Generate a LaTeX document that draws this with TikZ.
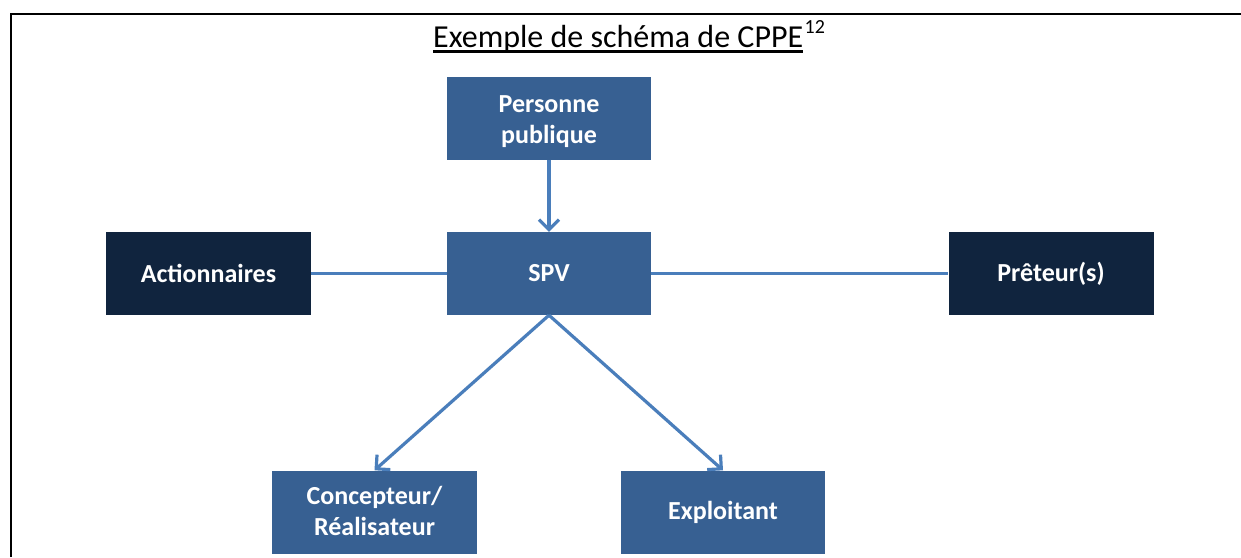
\documentclass[tikz,border=0pt]{standalone}
\usepackage{fontspec}
\setmainfont{Carlito}
\usetikzlibrary{arrows.meta}
\definecolor{midblue}{HTML}{376092}
\definecolor{navyblue}{HTML}{10243E}
\definecolor{linkblue}{HTML}{4A7EBB}
\begin{document}
\begin{tikzpicture}[x=1pt,y=-1pt,
  box/.style={rectangle, fill=midblue, text=white,
    font=\bfseries\fontsize{26}{31}\selectfont,
    minimum width=204pt, minimum height=83pt, inner sep=0pt, align=center},
  dbox/.style={box, fill=navyblue},
  link/.style={draw=linkblue, line width=3.2pt},
  arr/.style={link, -{Straight Barb[length=10pt,width=20pt,line width=3.2pt]}}]
\useasboundingbox (0,0) rectangle (1241,557);
% frame
\draw[line width=2.2pt] (11,557) -- (11,14) -- (1241,14);
% title
\node[anchor=base west, inner sep=0pt, font=\fontsize{32}{38}\selectfont] (title) at (433,47) {Exemple de schéma de CPPE};
\node[anchor=base west, inner sep=0pt, font=\fontsize{20}{24}\selectfont] (sup) at ([xshift=1pt,yshift=14pt]title.base east) {12};
\draw[line width=2.2pt] ([yshift=-4.5pt]title.base west) -- ([yshift=-4.5pt]title.base east);
% boxes
\node[box] (pp) at (549,118) {\raisebox{-4pt}[\height][\depth]{\begin{tabular}{@{}c@{}}Personne\\publique\end{tabular}}};
\node[box] (spv) at (549,273.5) {SPV};
\node[dbox, minimum width=205pt] (act) at (208.5,273.5) {Actionnaires};
\node[dbox, minimum width=205pt] (pret) at (1051,273.5) {Prêteur(s)};
\node[box, minimum width=205pt] (con) at (374.5,512) {\raisebox{-2pt}[\height][\depth]{\begin{tabular}{@{}c@{}}Concepteur/\\Réalisateur\end{tabular}}};
\node[box] (exp) at (723,512) {Exploitant};
% connectors
\draw[arr] (pp.south) -- (spv.north);
\draw[link] (act.east) -- (spv.west);
\draw[link] (spv.east) -- (pret.west);
\draw[arr] (spv.south) -- (con.north);
\draw[arr] (spv.south) -- (exp.north);
\end{tikzpicture}
\end{document}
